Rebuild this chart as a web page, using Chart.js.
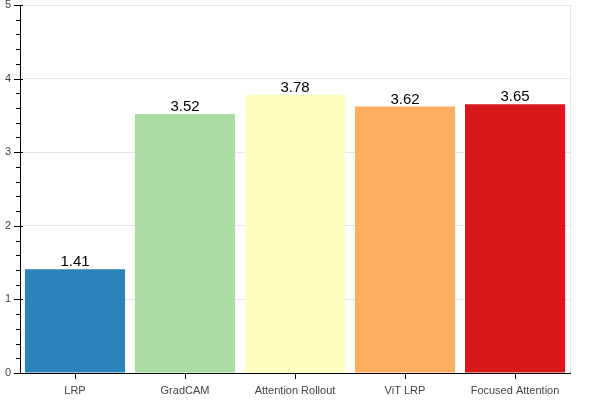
<!DOCTYPE html>
<html>
<head>
<meta charset="utf-8">
<script src="https://cdn.jsdelivr.net/npm/chart.js@4/dist/chart.umd.min.js"></script>
<style>
  html, body { margin: 0; padding: 0; background: #fff; }
  #wrap { width: 600px; height: 400px; }
</style>
</head>
<body>
<div id="wrap"><canvas id="chart"></canvas></div>
<script>
// 데이터
const methods = ['LRP', 'GradCAM', 'Attention Rollout', 'ViT LRP', 'Focused Attention'];
const scores = [1.41, 3.52, 3.78, 3.62, 3.65];
const barColors = ['#2b83ba', '#abdda4', '#ffffbf', '#fdae61', '#d7191c'];
const yTicks = [0, 1, 2, 3, 4, 5];

const FONT = '"Liberation Sans", Helvetica, Arial, sans-serif';

function isMajor(v) {
  return Math.abs(v - Math.round(v)) < 1e-6;
}

// 축 눈금, 테두리, 막대 위 숫자
const decoPlugin = {
  id: 'deco',
  afterDraw(chart) {
    const ctx = chart.ctx;
    const area = chart.chartArea;
    const xs = chart.scales.x;
    const ys = chart.scales.y;

    ctx.save();
    // 오른쪽 테두리
    ctx.strokeStyle = '#e5e5e5';
    ctx.lineWidth = 1;
    ctx.beginPath();
    ctx.moveTo(area.right + 0.5, area.top);
    ctx.lineTo(area.right + 0.5, area.bottom);
    ctx.stroke();

    // y축 눈금 (major / minor)
    ctx.strokeStyle = '#000';
    ctx.beginPath();
    ys.ticks.forEach(t => {
      const y = Math.round(ys.getPixelForValue(t.value)) + 0.5;
      if (isMajor(t.value)) {
        ctx.moveTo(area.left - 6, y);
        ctx.lineTo(area.left + 3, y);
      } else {
        ctx.moveTo(area.left - 4, y);
        ctx.lineTo(area.left, y);
      }
    });
    // x축 눈금
    methods.forEach((m, i) => {
      const x = Math.round(xs.getPixelForValue(i)) + 0.5;
      ctx.moveTo(x, area.bottom);
      ctx.lineTo(x, area.bottom + 6);
    });
    ctx.stroke();

    // 막대 위 값
    ctx.fillStyle = '#000';
    ctx.font = '15px ' + FONT;
    ctx.textAlign = 'center';
    ctx.textBaseline = 'alphabetic';
    const meta = chart.getDatasetMeta(0);
    meta.data.forEach((bar, i) => {
      ctx.fillText(scores[i].toFixed(2), bar.x, bar.y - 3);
    });
    ctx.restore();
  }
};

new Chart(document.getElementById('chart').getContext('2d'), {
  type: 'bar',
  data: {
    labels: methods,
    datasets: [{
      data: scores,
      backgroundColor: barColors,
      borderWidth: 0,
      barPercentage: 0.91,
      categoryPercentage: 1.0
    }]
  },
  options: {
    responsive: true,
    maintainAspectRatio: false,
    animation: false,
    layout: { padding: { top: 5, right: 30, left: 0, bottom: 0 } },
    plugins: {
      legend: { display: false },
      tooltip: { enabled: false }
    },
    scales: {
      x: {
        offset: true,
        grid: { display: false, drawTicks: false },
        border: { color: '#000', width: 1 },
        ticks: {
          color: '#444',
          font: { family: FONT, size: 11 },
          padding: 11,
          maxRotation: 0,
          autoSkip: false
        },
        afterFit(scale) {
          scale.height = 27;
          scale.paddingLeft = 0;
          scale.paddingRight = 0;
        }
      },
      y: {
        min: yTicks[0],
        max: yTicks[yTicks.length - 1],
        grid: {
          drawTicks: false,
          color: ctx => (ctx.tick && isMajor(ctx.tick.value)) ? '#e5e5e5' : 'rgba(0,0,0,0)'
        },
        border: { color: '#000', width: 1 },
        ticks: {
          stepSize: 0.2,
          maxTicksLimit: 40,
          autoSkip: false,
          color: '#444',
          font: { family: FONT, size: 11 },
          padding: 9,
          callback: v => yTicks.includes(Math.round(v * 1000) / 1000) ? String(Math.round(v)) : ''
        },
        afterFit(scale) {
          scale.width = 20;
          scale.paddingTop = 0;
          scale.paddingBottom = 0;
        }
      }
    }
  },
  plugins: [decoPlugin]
});
</script>
</body>
</html>
